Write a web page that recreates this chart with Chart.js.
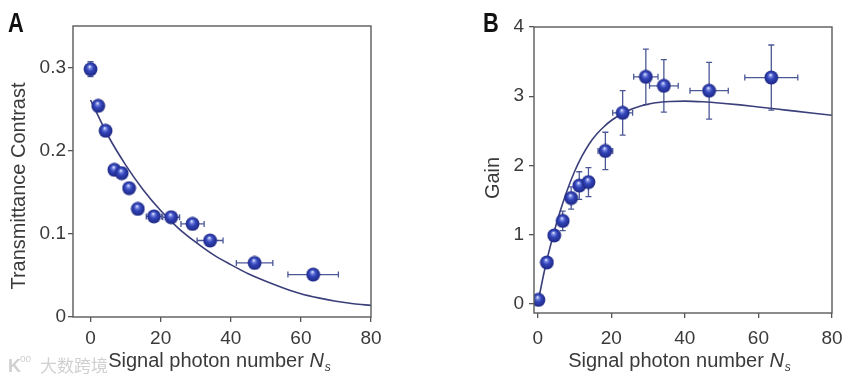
<!DOCTYPE html>
<html><head><meta charset="utf-8">
<script src="https://cdn.jsdelivr.net/npm/chart.js@4/dist/chart.umd.min.js"></script>
<style>
html,body{margin:0;padding:0;background:#fff;}
#wrap{position:relative;width:864px;height:382px;overflow:hidden;background:#fff;}
#wrap div{position:absolute;top:0;width:432px;height:382px;}
</style></head><body>
<div id="wrap"><div style="left:0"><canvas id="ca"></canvas></div><div style="left:432px"><canvas id="cb"></canvas></div></div>
<script>
// ---- tick labels ----
const xTicks = [0, 20, 40, 60, 80];
const aYTicks = [0, 0.1, 0.2, 0.3];
const bYTicks = [0, 1, 2, 3, 4];

// ---- panel A: transmittance contrast ----
const aX    = [0, 2.2, 4.3, 6.8, 8.9, 11.0, 13.5, 18.1, 23.0, 29.1, 34.1, 46.8, 63.5];
const aY    = [0.298, 0.254, 0.224, 0.177, 0.173, 0.155, 0.130, 0.121, 0.120, 0.112, 0.092, 0.065, 0.051];
const aXErr = [0, 0, 0, 0, 0, 0, 0, 2.2, 2.4, 3.3, 3.7, 5.2, 7.2];
const aYErr = [0.009, 0, 0, 0, 0, 0, 0, 0, 0, 0, 0, 0, 0];
const aCurveX = [0, 5, 10, 15, 20, 25, 30, 35, 40, 45, 50, 55, 60, 65, 70, 75, 80];
const aCurveY = [0.261, 0.218, 0.183, 0.153, 0.128, 0.107, 0.090, 0.075, 0.063, 0.052, 0.043, 0.035, 0.028, 0.023, 0.019, 0.016, 0.014];

// ---- panel B: gain ----
const bX    = [0.2, 2.5, 4.5, 6.8, 9.1, 11.3, 13.8, 18.4, 23.1, 29.4, 34.3, 46.6, 63.5];
const bY    = [0.06, 0.60, 0.99, 1.20, 1.53, 1.71, 1.76, 2.21, 2.76, 3.28, 3.15, 3.08, 3.27];
const bXErr = [0, 0, 0, 0, 0, 0, 0, 2.0, 2.7, 3.3, 3.9, 5.2, 7.2];
const bYErr = [0, 0, 0.05, 0.14, 0.16, 0.20, 0.21, 0.27, 0.32, 0.40, 0.38, 0.41, 0.47];
const bCurveX = [0, 2, 4, 6, 8, 10, 12, 14, 16, 18, 20, 24, 28, 32, 36, 40, 45, 50, 55, 60, 65, 70, 75, 80];
const bCurveY = [0, 0.52, 0.95, 1.32, 1.64, 1.91, 2.13, 2.31, 2.45, 2.56, 2.65, 2.78, 2.86, 2.905, 2.925, 2.93, 2.92, 2.90, 2.875, 2.845, 2.815, 2.785, 2.755, 2.725];

const FONT = "'Liberation Sans', Arial, Helvetica, sans-serif";
const TXT = '#3a3a3a';

// shaded sphere marker
function makeSphere() {
  const c = document.createElement('canvas');
  c.width = 15; c.height = 15;
  const g = c.getContext('2d');
  const grd = g.createRadialGradient(6.6, 4.8, 0.3, 7.5, 7.5, 7.2);
  grd.addColorStop(0, '#f2f4ff');
  grd.addColorStop(0.16, '#8090e6');
  grd.addColorStop(0.45, '#3446bb');
  grd.addColorStop(1, '#1b2580');
  g.fillStyle = grd;
  g.beginPath(); g.arc(7.5, 7.5, 6.9, 0, Math.PI * 2); g.fill();
  return c;
}
const sphere = makeSphere();

function pts(xs, ys) { return xs.map((x, i) => ({ x: x, y: ys[i] })); }

const errPlugin = {
  id: 'errbars',
  beforeDatasetsDraw(chart, args, o) {
    const ctx = chart.ctx, xs = chart.scales.x, ys = chart.scales.y;
    ctx.save();
    ctx.strokeStyle = '#4c5896';
    ctx.lineWidth = 1.3;
    const cap = 3;
    o.x.forEach((xv, i) => {
      const px = xs.getPixelForValue(xv), py = ys.getPixelForValue(o.y[i]);
      const ex = o.xe[i], ey = o.ye[i];
      ctx.beginPath();
      if (ex > 0) {
        const l = xs.getPixelForValue(xv - ex), r = xs.getPixelForValue(xv + ex);
        ctx.moveTo(l, py); ctx.lineTo(r, py);
        ctx.moveTo(l, py - cap); ctx.lineTo(l, py + cap);
        ctx.moveTo(r, py - cap); ctx.lineTo(r, py + cap);
      }
      if (ey > 0) {
        const t = ys.getPixelForValue(o.y[i] + ey), b = ys.getPixelForValue(o.y[i] - ey);
        ctx.moveTo(px, t); ctx.lineTo(px, b);
        ctx.moveTo(px - cap, t); ctx.lineTo(px + cap, t);
        ctx.moveTo(px - cap, b); ctx.lineTo(px + cap, b);
      }
      ctx.stroke();
    });
    ctx.restore();
  }
};

const decoPlugin = {
  id: 'deco',
  afterDraw(chart, args, o) {
    const ctx = chart.ctx, ca = chart.chartArea;
    ctx.save();
    // frame
    ctx.strokeStyle = '#5a5a5a';
    ctx.lineWidth = 1.4;
    ctx.strokeRect(ca.left, ca.top, ca.right - ca.left, ca.bottom - ca.top);
    // watermark
    if (o.watermark) {
      ctx.fillStyle = '#d0d0d0';
      ctx.font = "17px 'Noto Sans CJK SC', sans-serif";
      ctx.textAlign = 'left'; ctx.textBaseline = 'alphabetic';
      ctx.fillText(o.watermark, 40, 372);
      ctx.font = "bold 18px " + FONT;
      ctx.fillText('K', 8, 372);
      ctx.font = "10px " + FONT;
      ctx.fillText('oo', 20, 362);
    }
    // x title with italic N_s
    ctx.fillStyle = TXT;
    ctx.textBaseline = 'alphabetic'; ctx.textAlign = 'left';
    const t1 = 'Signal photon number ';
    ctx.font = '20px ' + FONT;
    const w1 = ctx.measureText(t1).width;
    ctx.font = 'italic 20px ' + FONT;
    const w2 = ctx.measureText('N').width;
    ctx.font = 'italic 12px ' + FONT;
    const w3 = ctx.measureText('s').width;
    const cx = (ca.left + ca.right) / 2 + o.xtDx;
    let sx = cx - (w1 + w2 + w3) / 2;
    ctx.font = '20px ' + FONT; ctx.fillText(t1, sx, o.xtY);
    ctx.font = 'italic 20px ' + FONT; ctx.fillText('N', sx + w1, o.xtY);
    ctx.font = 'italic 12px ' + FONT; ctx.fillText('s', sx + w1 + w2 + 1, o.xtY + 4);
    // y title
    ctx.save();
    ctx.translate(o.ytX, o.ytY);
    ctx.rotate(-Math.PI / 2);
    ctx.font = '20px ' + FONT;
    ctx.textAlign = 'center'; ctx.textBaseline = 'middle';
    ctx.fillText(o.ytitle, 0, 0);
    ctx.restore();
    // panel letter
    ctx.save();
    ctx.fillStyle = '#111';
    ctx.translate(o.lx, 32);
    ctx.scale(0.78, 1);
    ctx.font = 'bold 28px ' + FONT;
    ctx.textAlign = 'left'; ctx.textBaseline = 'alphabetic';
    ctx.fillText(o.letter, 0, 0);
    ctx.restore();
    ctx.restore();
  }
};

function makeChart(id, cfg) {
  return new Chart(document.getElementById(id), {
    type: 'scatter',
    data: {
      datasets: [
        { type: 'line', data: pts(cfg.cx, cfg.cy), borderColor: '#3b3f7a', borderWidth: 1.6,
          pointRadius: 0, fill: false, cubicInterpolationMode: 'monotone', order: 2 },
        { type: 'scatter', data: pts(cfg.x, cfg.y), pointStyle: sphere, pointRadius: 7, order: 1 }
      ]
    },
    options: {
      responsive: true, maintainAspectRatio: false, animation: false,
      layout: { padding: { left: 0, right: cfg.padR, top: cfg.padT, bottom: 0 } },
      plugins: {
        legend: { display: false }, tooltip: { enabled: false },
        errbars: { x: cfg.x, y: cfg.y, xe: cfg.xe, ye: cfg.ye },
        deco: cfg.deco
      },
      scales: {
        x: {
          type: 'linear', min: cfg.xmin, max: 80,
          afterBuildTicks: s => { s.ticks = xTicks.map(v => ({ value: v })); },
          afterFit: s => { s.height = cfg.xh; },
          border: { display: false },
          grid: { drawOnChartArea: false, drawTicks: true, tickLength: 5, color: '#555', lineWidth: 1.3 },
          ticks: { font: { size: 19, family: FONT }, color: TXT, padding: cfg.xpad, maxRotation: 0, callback: v => String(v) }
        },
        y: {
          type: 'linear', min: cfg.ymin, max: cfg.ymax,
          afterBuildTicks: s => { s.ticks = cfg.yticks.map(v => ({ value: v })); },
          afterFit: s => { s.width = cfg.yw; },
          border: { display: false },
          grid: { drawOnChartArea: false, drawTicks: true, tickLength: 5, color: '#555', lineWidth: 1.3 },
          ticks: { font: { size: 19, family: FONT }, color: TXT, padding: cfg.ypad, callback: v => String(v) }
        }
      }
    },
    plugins: [errPlugin, decoPlugin]
  });
}

makeChart('ca', {
  x: aX, y: aY, xe: aXErr, ye: aYErr, cx: aCurveX, cy: aCurveY,
  xmin: -5, ymin: 0, ymax: 0.35, yticks: aYTicks,
  padR: 61, padT: 26, xh: 65, yw: 73, xpad: 5, ypad: 2,
  deco: { letter: 'A', lx: 8, ytitle: 'Transmittance Contrast', ytX: 19, ytY: 186, xtY: 367, xtDx: -3, watermark: '大数跨境' }
});
makeChart('cb', {
  x: bX, y: bY, xe: bXErr, ye: bYErr, cx: bCurveX, cy: bCurveY,
  xmin: -1, ymin: -0.13, ymax: 4, yticks: bYTicks,
  padR: 32, padT: 27, xh: 69, yw: 102, xpad: 9, ypad: 5,
  deco: { letter: 'B', lx: 51, ytitle: 'Gain', ytX: 61, ytY: 178, xtY: 367, xtDx: -4, watermark: '' }
});
</script>
</body></html>
